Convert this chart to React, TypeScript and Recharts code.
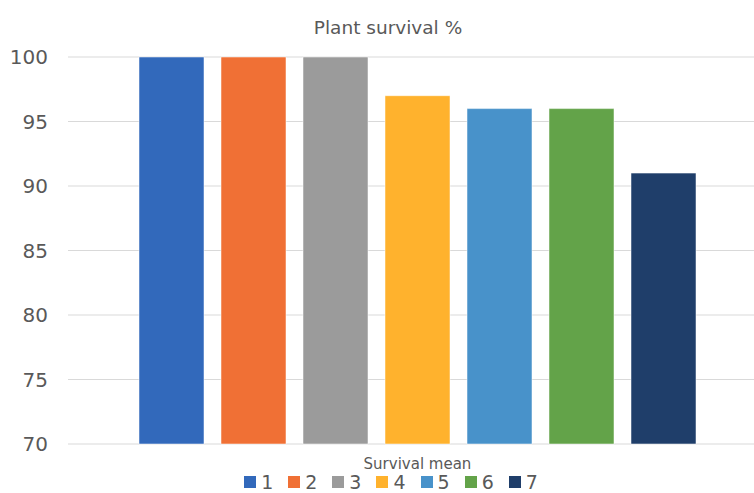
import React from 'react'
import { BarChart, Bar, XAxis, YAxis, CartesianGrid, Legend } from 'recharts'

const categories = ['Survival mean']
const seriesNames = ['1', '2', '3', '4', '5', '6', '7']
const survival = [100, 100, 100, 97, 96, 96, 91]
const yTicks = [70, 75, 80, 85, 90, 95, 100]

const COLORS = ['#3269bb', '#f07035', '#9b9b9b', '#ffb22d', '#4892ca', '#63a349', '#1f3e6a']

const FONT = '"DejaVu Sans", sans-serif'
const TEXT = '#595959'

// one row per category, one key per series
const data = categories.map((name) => {
  const row: Record<string, string | number> = { name }
  seriesNames.forEach((s, i) => {
    row[s] = survival[i]
  })
  return row
})

function LegendRow() {
  return (
    <div
      style={{
        height: 20,
        lineHeight: '20px',
        display: 'flex',
        justifyContent: 'center',
        alignItems: 'center',
        paddingLeft: 12,
        fontFamily: FONT,
        fontSize: 19,
        color: TEXT,
      }}
    >
      {seriesNames.map((s, i) => (
        <div key={s} style={{ display: 'flex', alignItems: 'center', marginRight: i < seriesNames.length - 1 ? 15 : 0 }}>
          <span style={{ width: 12, height: 12, background: COLORS[i], marginRight: 5 }} />
          <span>{s}</span>
        </div>
      ))}
    </div>
  )
}

export default function App() {
  return (
    <div style={{ position: 'fixed', top: 0, left: 0, width: 754, height: 493, overflow: 'hidden', background: '#fff' }}>
      <div
        style={{
          position: 'absolute',
          top: 17,
          left: 0,
          width: 776,
          textAlign: 'center',
          fontFamily: FONT,
          fontSize: 18.5,
          color: TEXT,
          zIndex: 1,
        }}
      >
        Plant survival %
      </div>
      <BarChart
        width={770}
        height={493}
        data={data}
        margin={{ top: 57, right: 3, left: 0, bottom: 0 }}
        barSize={65}
        barGap={17}
      >
        <CartesianGrid vertical={false} stroke="#d9d9d9" />
        <XAxis
          dataKey="name"
          axisLine={false}
          tickLine={false}
          height={29}
          tickMargin={8}
          tick={{ fill: TEXT, fontSize: 15, fontFamily: FONT }}
        />
        <YAxis
          domain={[70, 100]}
          ticks={yTicks}
          interval={0}
          axisLine={false}
          tickLine={false}
          width={68}
          tickMargin={14}
          tick={{ fill: TEXT, fontSize: 20, fontFamily: FONT }}
        />
        <Legend verticalAlign="bottom" content={() => <LegendRow />} wrapperStyle={{ bottom: 1, left: 0, width: 770 }} />
        {seriesNames.map((s, i) => (
          <Bar key={s} dataKey={s} fill={COLORS[i]} stroke="#ffffff" strokeOpacity={0.5} isAnimationActive={false} />
        ))}
      </BarChart>
    </div>
  )
}
